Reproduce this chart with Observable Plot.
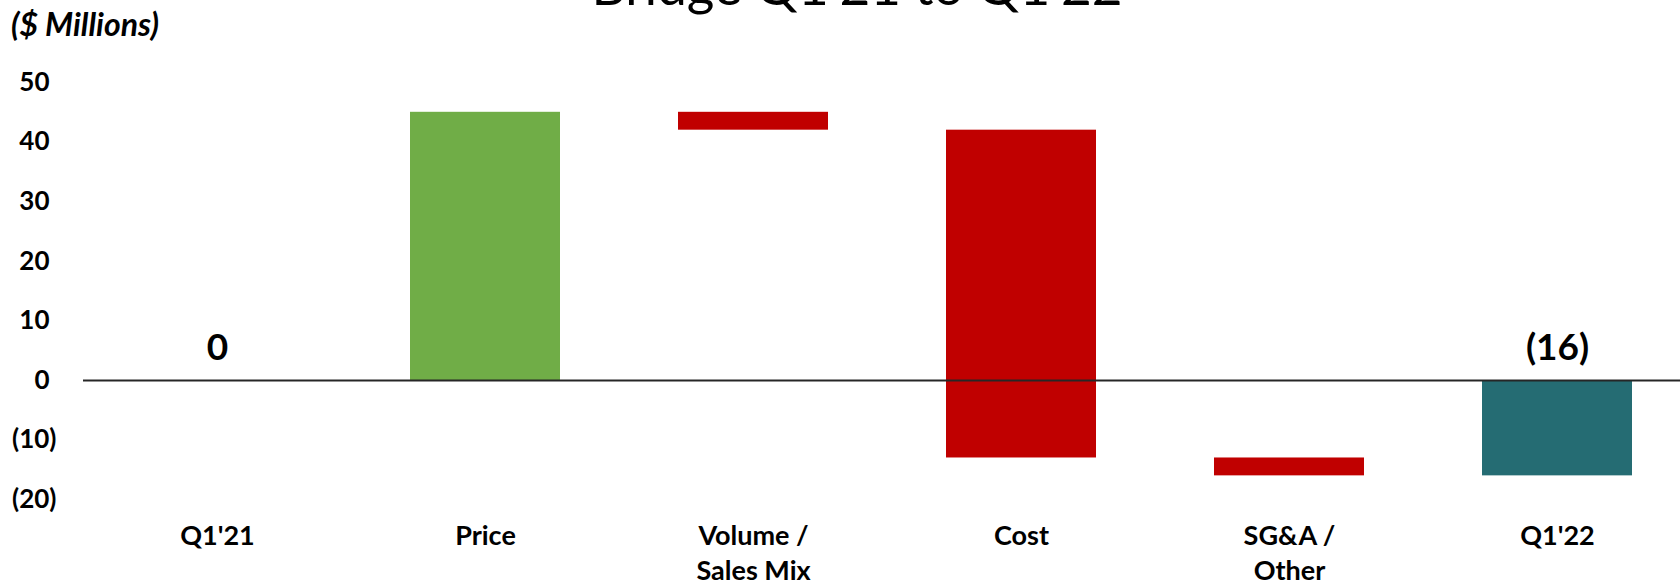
<!DOCTYPE html>
<html>
<head>
<meta charset="utf-8">
<script src="https://cdn.jsdelivr.net/npm/d3@7"></script>
<script src="https://cdn.jsdelivr.net/npm/@observablehq/plot@0.6"></script>
<style>
  body { margin: 0; background: #fff; }
  #wrap { position: relative; width: 1680px; height: 583px; overflow: hidden; font-family: Lato, sans-serif; color: #000; }
  #chart { position: absolute; left: 0; top: 0; }
  #title { position: absolute; left: 0; width: 1714px; top: -42px; text-align: center; font-size: 53px; line-height: 53px; white-space: nowrap; }
  #sub { position: absolute; left: 11px; top: 8px; font-size: 32px; line-height: 32px; font-weight: bold; font-style: italic; white-space: nowrap; }
</style>
</head>
<body>
<div id="wrap">
  <div id="chart"></div>
  <div id="title">Bridge Q1'21 to Q1'22</div>
  <div id="sub">($ Millions)</div>
</div>
<script>
// ---- data ----
const categories = ["Q1'21", "Price", "Volume /\nSales Mix", "Cost", "SG&A /\nOther", "Q1'22"];
const amounts = [0, 45, -3, -55, -3, -16];           // totals = level, others = change
const kinds = ["total", "increase", "decrease", "decrease", "decrease", "total"];
const kindColors = { increase: "#70AD47", decrease: "#C00000", total: "#256C73" };
const yTicks = [50, 40, 30, 20, 10, 0, -10, -20];

// ---- build waterfall rows ----
let running = 0;
const rows = categories.map((cat, i) => {
  const kind = kinds[i];
  let y1, y2;
  if (kind === "total") { y1 = 0; y2 = amounts[i]; running = amounts[i]; }
  else { y1 = running; y2 = running + amounts[i]; running = y2; }
  return { cat, y1, y2, kind, color: kindColors[kind], value: amounts[i] };
});
const totals = rows.filter(d => d.kind === "total").map(d => ({
  cat: d.cat, label: d.value < 0 ? `(${-d.value})` : `${d.value}`
}));
const fmt = d => d < 0 ? `(${-d})` : `${d}`;

const chart = Plot.plot({
  width: 1680,
  height: 583,
  marginLeft: 83,
  marginRight: 0,
  marginTop: 82,
  marginBottom: 83.8,
  x: { domain: categories, range: [83, 1691], paddingInner: 0.44, paddingOuter: 0.22, align: 0.5, label: null },
  y: { domain: [-20, 50], label: null },
  color: { type: "identity" },
  style: { fontFamily: "Lato, sans-serif", background: "transparent", color: "#000" },
  marks: [
    Plot.barY(rows, { x: "cat", y1: "y1", y2: "y2", fill: "color" }),
    Plot.ruleY([0], { stroke: "#262626", strokeWidth: 2 }),
    Plot.axisY(yTicks.filter(d => d >= 0), { tickSize: 0, tickPadding: 34, fontSize: 26, fontWeight: "bold", tickFormat: fmt, label: null }),
    Plot.axisY(yTicks.filter(d => d < 0), { tickSize: 0, tickPadding: 27, fontSize: 26, fontWeight: "bold", tickFormat: fmt, label: null }),
    Plot.axisX({ tickSize: 0, tickPadding: 20, fontSize: 27, fontWeight: "bold", lineHeight: 1.3, label: null }),
    Plot.text(totals, { x: "cat", y: 0, dy: -32, text: "label", fontSize: 37, fontWeight: "bold", lineAnchor: "middle", fill: "#000" })
  ]
});
document.getElementById("chart").appendChild(chart);
</script>
</body>
</html>
